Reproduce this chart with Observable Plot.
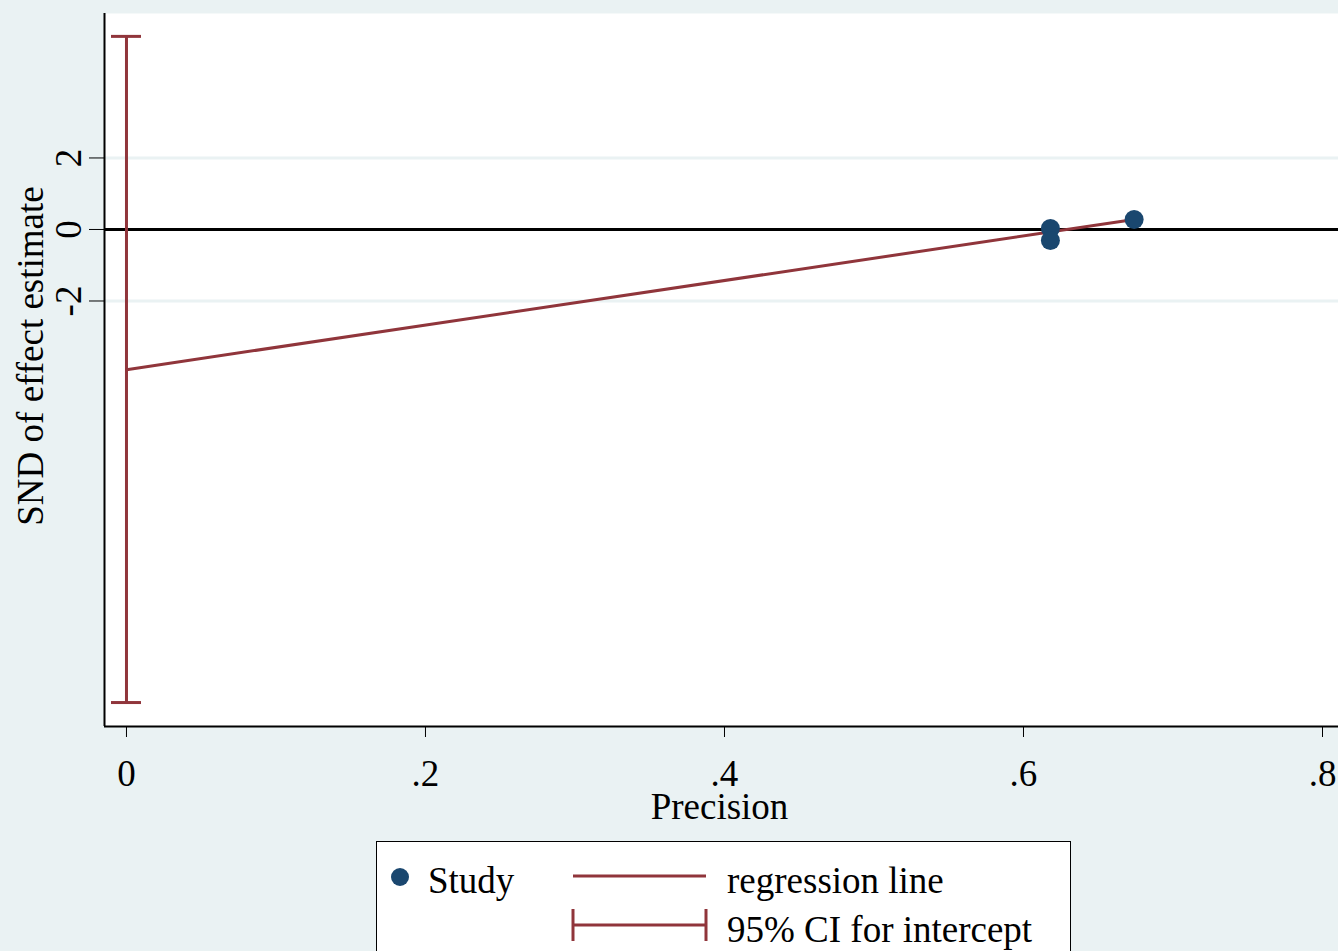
<!DOCTYPE html>
<html>
<head>
<meta charset="utf-8">
<script src="https://cdn.jsdelivr.net/npm/d3@7"></script>
<script src="https://cdn.jsdelivr.net/npm/@observablehq/plot@0.6"></script>
<style>
  html, body { margin: 0; padding: 0; background: #eaf2f3; overflow: hidden; width: 1338px; height: 951px; }
  body { font-family: "Liberation Serif", "Times New Roman", serif; position: relative; }
  #legend { position: absolute; left: 376px; top: 841px; width: 695px; height: 140px; background: white; border: 1.5px solid #000; box-sizing: border-box; }
  #legend .item { position: absolute; font-size: 37px; line-height: 1; white-space: nowrap; }
</style>
</head>
<body>
<div id="chart"></div>
<div id="legend"></div>
<script>
// ---- data ----
const studyPrecision = [0.618, 0.618, 0.674];
const studySND = [0.03, -0.31, 0.28];
const regPrecision = [0, 0.674];
const regSND = [-3.92, 0.28];
const ciPrecision = 0;
const ciLow = -13.23;
const ciHigh = 5.40;
const xTicks = [0, 0.2, 0.4, 0.6, 0.8];
const yTicks = [-2, 0, 2];
const xDomain = [-0.0147, 0.8107];
const yDomain = [-13.9, 6.04];

const maroon = "#90353b";
const navy = "#1a476f";
const bg = "#eaf2f3";
const font = "Liberation Serif";

const studies = studyPrecision.map((p, i) => ({x: p, y: studySND[i]}));
const reg = regPrecision.map((p, i) => ({x: p, y: regSND[i]}));
const ci = [{x: ciPrecision, y1: ciLow, y2: ciHigh}];
const caps = [ciLow, ciHigh];

const fmtX = d => d === 0 ? "0" : d3.format(".1f")(d).replace(/^0/, "");

const chart = Plot.plot({
  width: 1338,
  height: 830,
  marginTop: 13,
  marginBottom: 104,
  marginLeft: 104,
  marginRight: 0,
  style: {background: "transparent", fontFamily: font, fontSize: "37px", color: "#000"},
  x: {domain: xDomain},
  y: {domain: yDomain},
  marks: [
    Plot.frame({fill: "white", stroke: null}),
    Plot.ruleY(yTicks.filter(d => d !== 0), {stroke: bg, strokeWidth: 3}),
    Plot.ruleY([0], {stroke: "#000", strokeWidth: 3}),
    Plot.ruleX([xDomain[0]], {stroke: "#000", strokeWidth: 2}),
    Plot.ruleY([yDomain[0]], {stroke: "#000", strokeWidth: 2}),
    Plot.axisX({ticks: xTicks, tickFormat: fmtX, tickSize: 11, tickPadding: 22, fontSize: 37, label: null, stroke: "#000"}),
    Plot.axisY({ticks: yTicks, tickFormat: () => "", tickSize: 15, label: null, stroke: "#000"}),
    Plot.text(yTicks, {y: d => d, text: d => String(d), frameAnchor: "left", rotate: -90, dx: -24, textAnchor: "middle", lineAnchor: "bottom", fontSize: 37, fill: "#000"}),
    Plot.text(["SND of effect estimate"], {frameAnchor: "left", rotate: -90, dx: -62, dy: -14, textAnchor: "middle", lineAnchor: "bottom", fontSize: 37, fill: "#000"}),
    Plot.text(["Precision"], {frameAnchor: "bottom", dy: 81, lineAnchor: "middle", textAnchor: "middle", dx: -2, fontSize: 37, fill: "#000"}),
    Plot.ruleX(ci, {x: "x", y1: "y1", y2: "y2", stroke: maroon, strokeWidth: 3}),
    Plot.ruleY(caps, {y: d => d, x1: ciPrecision, x2: ciPrecision, insetLeft: -15, insetRight: -15, stroke: maroon, strokeWidth: 3}),
    Plot.line(reg, {x: "x", y: "y", stroke: maroon, strokeWidth: 3}),
    Plot.dot(studies, {x: "x", y: "y", r: 9.5, fill: navy, stroke: null})
  ]
});
document.getElementById("chart").appendChild(chart);

// ---- legend ----
const legend = document.getElementById("legend");
legend.innerHTML = `
  <svg width="695" height="140" style="position:absolute;left:0;top:0">
    <circle cx="23" cy="35" r="9" fill="${navy}"/>
    <line x1="196" x2="329" y1="34" y2="34" stroke="${maroon}" stroke-width="3"/>
    <line x1="196" x2="329" y1="83" y2="83" stroke="${maroon}" stroke-width="3"/>
    <line x1="196" x2="196" y1="67" y2="99" stroke="${maroon}" stroke-width="3"/>
    <line x1="329" x2="329" y1="67" y2="99" stroke="${maroon}" stroke-width="3"/>
  </svg>
  <div class="item" style="left:51px;top:20px">Study</div>
  <div class="item" style="left:350px;top:20px">regression line</div>
  <div class="item" style="left:350px;top:69px">95% CI for intercept</div>
`;
</script>
</body>
</html>
